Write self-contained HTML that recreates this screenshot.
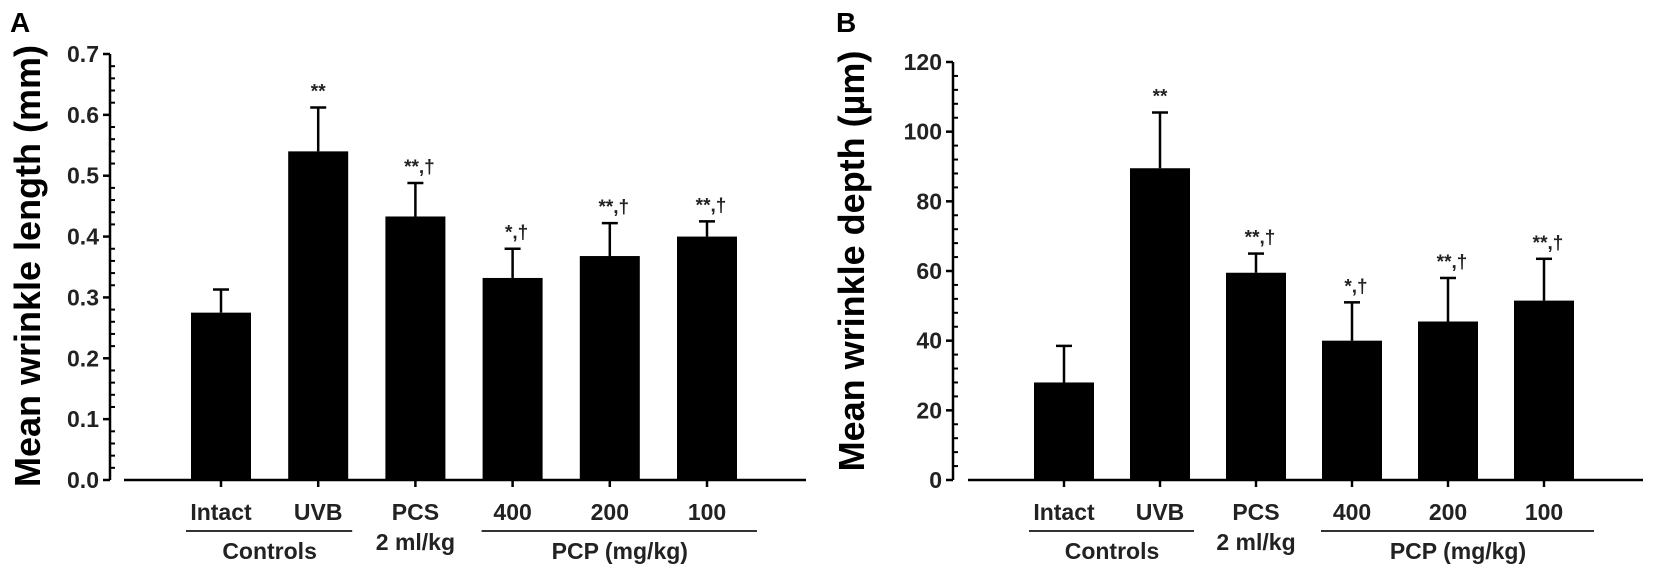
<!DOCTYPE html>
<html><head><meta charset="utf-8"><style>
html,body{margin:0;padding:0;background:#fff;}
svg{display:block;font-family:"Liberation Sans",Arial,sans-serif;font-weight:bold;}
</style></head><body>
<svg id="fig" width="1654" height="571" viewBox="0 0 1654 571" xmlns="http://www.w3.org/2000/svg"></svg>
<script>
const categories = ["Intact","UVB","PCS","400","200","100"];
const lengthMeans = [0.275,0.540,0.433,0.332,0.368,0.400];
const lengthErrTop = [0.313,0.612,0.488,0.380,0.422,0.425];
const depthMeans = [28,89.5,59.5,40,45.5,51.5];
const depthErrTop = [38.5,105.5,65,51,58,63.5];
const sigMarks = ["","**","**,†","*,†","**,†","**,†"];
const lengthTicks = ["0.0","0.1","0.2","0.3","0.4","0.5","0.6","0.7"];
const depthTicks = ["0","20","40","60","80","100","120"];

const NS="http://www.w3.org/2000/svg";
const svg=document.getElementById('fig');
function mk(tag,attrs,parent,text){const e=document.createElementNS(NS,tag);for(const k in attrs)e.setAttribute(k,attrs[k]);if(text!==undefined)e.textContent=text;(parent||svg).appendChild(e);return e;}

function panel(cfg){
  const g=mk('g',{});
  
  
  const y0=480, yTop=cfg.yTop, max=cfg.max;
  const yS=v=>y0-(v/max)*(y0-yTop);
  const xS=i=>cfg.x0+i*cfg.step;
  const L=mk('text',{x:cfg.letterX,y:32,'font-size':28},g,cfg.letter);
  
  
  const t=mk('text',{x:0,y:0,'font-size':36,'text-anchor':'middle',transform:`translate(${cfg.titleX},${cfg.titleY}) rotate(-90)`},g,cfg.title);
  
  
  const ya=mk('line',{x1:cfg.ax,y1:yTop,x2:cfg.ax,y2:y0,stroke:'#000','stroke-width':2.5},g);
  
  
  const nMaj=cfg.ticks.length-1;
  for(let k=0;k<=nMaj*5;k++){
    const v=max*k/(nMaj*5), y=yS(v);
    if(k%5===0){
      mk('line',{x1:cfg.ax-7,y1:y,x2:cfg.ax,y2:y,stroke:'#000','stroke-width':2.5},g);
      const tl=mk('text',{x:cfg.ax-11,y:y+8,'font-size':23,'text-anchor':'end',fill:'#222'},g,cfg.ticks[k/5]);
      
      
    } else {
      mk('line',{x1:cfg.ax,y1:y,x2:cfg.ax+5,y2:y,stroke:'#000','stroke-width':2},g);
    }
  }
  const xa=mk('line',{x1:cfg.xStart,y1:y0,x2:cfg.xEnd,y2:y0,stroke:'#000','stroke-width':2.5},g);
  
  
  cfg.means.forEach((m,i)=>{
    const cx=xS(i);
    const b=mk('rect',{x:cx-30,y:yS(m),width:60,height:y0-yS(m),fill:'#000'},g);
    
    
    const et=yS(cfg.err[i]);
    mk('line',{x1:cx,y1:yS(m),x2:cx,y2:et,stroke:'#000','stroke-width':2.5},g);
    mk('line',{x1:cx-8,y1:et,x2:cx+8,y2:et,stroke:'#000','stroke-width':2.5},g);
    mk('line',{x1:cx,y1:y0,x2:cx,y2:y0+7,stroke:'#000','stroke-width':2.5},g);
    if(sigMarks[i]){
      const s=mk('text',{x:sigMarks[i].length>2?cx+4:cx,y:et-10,'font-size':19,'text-anchor':'middle',fill:'#222'},g,sigMarks[i]);
      
      
    }
    const xl=mk('text',{x:cx,y:520,'font-size':23,'text-anchor':'middle',fill:'#222'},g,categories[i]);
    
    
  });
  const pm=mk('text',{x:xS(2),y:550,'font-size':23,'text-anchor':'middle',fill:'#222'},g,'2 ml/kg');
  
  
  mk('line',{x1:xS(0)-35,y1:531,x2:xS(1)+34,y2:531,stroke:'#333','stroke-width':2},g);
  const c=mk('text',{x:(xS(0)+xS(1))/2,y:559,'font-size':23,'text-anchor':'middle',fill:'#222'},g,'Controls');
  
  
  mk('line',{x1:xS(3)-31,y1:531,x2:xS(5)+50,y2:531,stroke:'#333','stroke-width':2},g);
  const p=mk('text',{x:xS(4)+10,y:559,'font-size':23,'text-anchor':'middle',fill:'#222'},g,'PCP (mg/kg)');
  
  
}
panel({name:'panel-a-wrinkle-length',letter:'A',letterX:10,title:'Mean wrinkle length (mm)',titleX:40,titleY:266,ax:110,yTop:54,max:0.7,ticks:lengthTicks,x0:221,step:97.2,xStart:124,xEnd:806,means:lengthMeans,err:lengthErrTop});
panel({name:'panel-b-wrinkle-depth',letter:'B',letterX:836,title:'Mean wrinkle depth (µm)',titleX:864,titleY:261,ax:953,yTop:62,max:120,ticks:depthTicks,x0:1064,step:96,xStart:968,xEnd:1643,means:depthMeans,err:depthErrTop});
</script>
</body></html>
